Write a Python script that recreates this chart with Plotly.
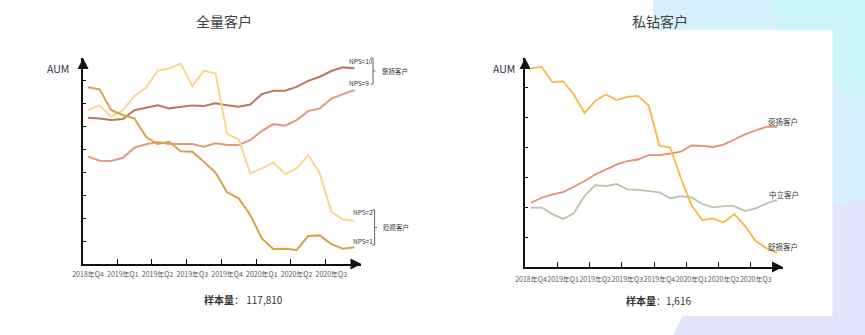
import plotly.graph_objects as go

W, H = 865, 335
FONT = "Noto Sans CJK SC"

# monthly points, Oct 2018 .. Sep 2020
months = list(range(24))
quarter_ticks = [0, 3, 6, 9, 12, 15, 18, 21]
quarter_labels = ["2018年Q4", "2019年Q1", "2019年Q2", "2019年Q3",
                  "2019年Q4", "2020年Q1", "2020年Q2", "2020年Q3"]
quarter_bounds = [2.5, 5.5, 8.5, 11.5, 14.5, 17.5, 20.5]

# 全量客户 (AUM index)
all_nps10 = [63.9, 63.6, 62.9, 63.3, 67.2, 68.4, 69.3, 68.0, 68.7, 69.3, 69.0, 70.2,
             69.4, 68.7, 69.7, 74.2, 75.7, 75.7, 77.4, 80.0, 81.8, 84.3, 85.9, 85.5]
all_nps9 = [46.9, 45.1, 45.0, 46.4, 50.8, 52.3, 53.3, 52.4, 52.4, 52.4, 51.2, 52.7,
            52.0, 52.0, 54.1, 58.2, 61.1, 60.4, 62.9, 66.8, 68.0, 72.2, 74.2, 76.0]
all_nps2 = [67.2, 69.3, 64.3, 67.2, 73.4, 77.0, 84.4, 85.5, 87.6, 77.7, 84.4, 83.3,
            56.8, 54.5, 39.6, 41.8, 44.4, 39.3, 41.8, 47.6, 39.6, 22.8, 19.5, 18.9]
all_nps1 = [77.2, 76.3, 67.2, 65.1, 63.6, 55.6, 52.4, 53.4, 49.3, 49.0, 44.7, 39.9,
            31.3, 28.7, 21.4, 11.2, 6.4, 6.7, 6.1, 12.2, 12.5, 8.7, 6.7, 7.3]

# 私钻客户 (AUM index)
pb_detractor = [66.5, 67.0, 61.9, 62.2, 57.8, 51.6, 55.6, 57.8, 55.9, 57.0, 57.3, 54.1,
                40.6, 40.0, 29.8, 20.7, 15.7, 16.3, 14.9, 17.7, 13.7, 8.7, 6.3, 4.6]
pb_promoter = [21.5, 23.2, 24.3, 25.1, 26.9, 28.8, 31.0, 32.7, 34.3, 35.5, 36.0, 37.5,
               37.5, 38.0, 38.6, 40.7, 40.6, 40.2, 41.0, 42.7, 44.4, 45.8, 46.9, 46.9]
pb_neutral = [19.8, 20.0, 17.7, 16.1, 18.0, 23.8, 27.4, 27.1, 27.8, 26.0, 25.8, 25.4,
              25.0, 23.0, 23.7, 23.3, 21.1, 20.0, 20.4, 20.4, 18.7, 19.6, 21.3, 22.4]

left_series = [
    ("NPS=10", all_nps10, "#b9775e"),
    ("NPS=9", all_nps9, "#e39a7c"),
    ("NPS=2", all_nps2, "#f9d690"),
    ("NPS=1", all_nps1, "#d6a347"),
]
right_series = [
    ("褒扬客户", pb_promoter, "#e2906e"),
    ("中立客户", pb_neutral, "#bcc3ab"),
    ("贬损客户", pb_detractor, "#f6b843"),
]


def px(x):
    return x / W


def py(y):
    return 1 - y / H


fig = go.Figure()
for name, vals, col in left_series:
    fig.add_trace(go.Scatter(x=months, y=vals, mode="lines", name=name,
                             line=dict(color=col, width=2), xaxis="x", yaxis="y",
                             showlegend=False, hoverinfo="skip"))
for name, vals, col in right_series:
    fig.add_trace(go.Scatter(x=months, y=vals, mode="lines", name=name,
                             line=dict(color=col, width=1.8), xaxis="x2", yaxis="y2",
                             showlegend=False, hoverinfo="skip"))

AX = "#111111"


def xaxis_style(domain, rng, standoff):
    return dict(domain=domain, range=rng, showgrid=False, zeroline=False,
                showline=True, linecolor=AX, linewidth=2,
                tickmode="array", tickvals=quarter_ticks, ticktext=quarter_labels,
                ticks="", tickangle=0, ticklabelstandoff=standoff,
                tickfont=dict(family=FONT, size=7, color="#5a5a5a"),
                minor=dict(tickmode="array", tickvals=quarter_bounds, ticks="inside",
                           ticklen=5, tickwidth=1.2, tickcolor=AX, showgrid=False),
                fixedrange=True)


def yaxis_style(domain, rng, step):
    return dict(domain=domain, range=rng, showgrid=False, zeroline=False,
                showline=True, linecolor=AX, linewidth=2,
                tickmode="array", tickvals=[step * k for k in range(1, int(rng[1] / step))],
                ticks="inside", ticklen=3, tickwidth=1, tickcolor=AX,
                showticklabels=False, fixedrange=True)


L_X = (-0.43, 23.6)
L_Y = (0, 90)
R_X = (-0.55, 23.55)
R_Y = (0, 70)

annotations = []

# axis arrow heads
for xr, yr, xa, ya, dx, dy in [(L_X, L_Y, "x", "y", 1.0, 5), (R_X, R_Y, "x2", "y2", 1.0, 4)]:
    annotations.append(dict(x=xr[1], y=0, ax=xr[1] - dx, ay=0, xref=xa, yref=ya,
                            axref=xa, ayref=ya, text="", showarrow=True,
                            arrowhead=2, arrowsize=1.1, arrowwidth=2, arrowcolor=AX))
    annotations.append(dict(x=xr[0], y=yr[1], ax=xr[0], ay=yr[1] - dy, xref=xa, yref=ya,
                            axref=xa, ayref=ya, text="", showarrow=True,
                            arrowhead=2, arrowsize=1.1, arrowwidth=2, arrowcolor=AX))


def label(text, x, y, size, color="#333", xanchor="left", family=FONT):
    annotations.append(dict(text=text, x=px(x), y=py(y), xref="paper", yref="paper",
                            xanchor=xanchor, yanchor="middle", showarrow=False,
                            font=dict(family=family, size=size, color=color)))


label("全量客户", 216, 21, 14, "#404040", "center")
label("私钻客户", 657, 21, 14, "#404040", "center")
label("AUM", 61, 68, 10.5, "#2c3446", "right")
label("AUM", 513, 68, 10.5, "#2c3446", "right")
label("<b>样本量</b>： 117,810", 236, 299, 10, "#333", "center")
label("<b>样本量</b>：1,616", 656, 300, 10, "#333", "center")

label("NPS=10", 340, 61, 6.5)
label("NPS=9", 340, 83, 6.5)
label("NPS=2", 344, 212, 6.5)
label("NPS=1", 344, 241, 6.5)
label("褒扬客户", 374, 71, 6.5)
label("贬损客户", 375, 227, 6.5)

label("褒扬客户", 765, 121, 7.5)
label("中立客户", 766, 194, 7.5)
label("贬损客户", 765, 247, 7.5)

shapes = []
# background decoration
for (cx, cy, r, col) in [(900, 20, 250, "#d6f1fb"), (950, -80, 200, "#cbf6f7"),
                         (880, 430, 230, "#e2e5fc")]:
    shapes.append(dict(type="circle", xref="paper", yref="paper", layer="below",
                       x0=px(cx - r), x1=px(cx + r), y0=py(cy + r), y1=py(cy - r),
                       fillcolor=col, line=dict(width=0)))
shapes.append(dict(type="rect", xref="paper", yref="paper", layer="below",
                   x0=0, x1=px(832), y0=py(316), y1=py(30),
                   fillcolor="white", line=dict(width=0)))


# brackets grouping the NPS labels
def bracket(x, y0, y1):
    ym = (y0 + y1) / 2
    pts = [((x - 2.5, y0), (x, y0)), ((x, y0), (x, y1)), ((x - 2.5, y1), (x, y1)),
           ((x, ym), (x + 2.5, ym))]
    for (a, b) in pts:
        shapes.append(dict(type="line", xref="paper", yref="paper",
                           x0=px(a[0]), y0=py(a[1]), x1=px(b[0]), y1=py(b[1]),
                           line=dict(color="#666", width=1)))


bracket(366.7, 58, 84)
bracket(368.3, 210, 245)

fig.update_layout(
    width=W, height=H, margin=dict(l=0, r=0, t=0, b=0),
    paper_bgcolor="white", plot_bgcolor="rgba(0,0,0,0)",
    xaxis=xaxis_style([px(73), px(355)], list(L_X), 3),
    yaxis=yaxis_style([py(264), py(58)], list(L_Y), 10),
    xaxis2=xaxis_style([px(520.7), px(782)], list(R_X), 5),
    yaxis2=yaxis_style([py(267), py(58)], list(R_Y), 10),
    annotations=annotations, shapes=shapes,
    font=dict(family=FONT),
)
fig.update_layout(xaxis2=dict(anchor="y2"), yaxis2=dict(anchor="x2"))

fig.write_html("out.html", config={"displayModeBar": False})
